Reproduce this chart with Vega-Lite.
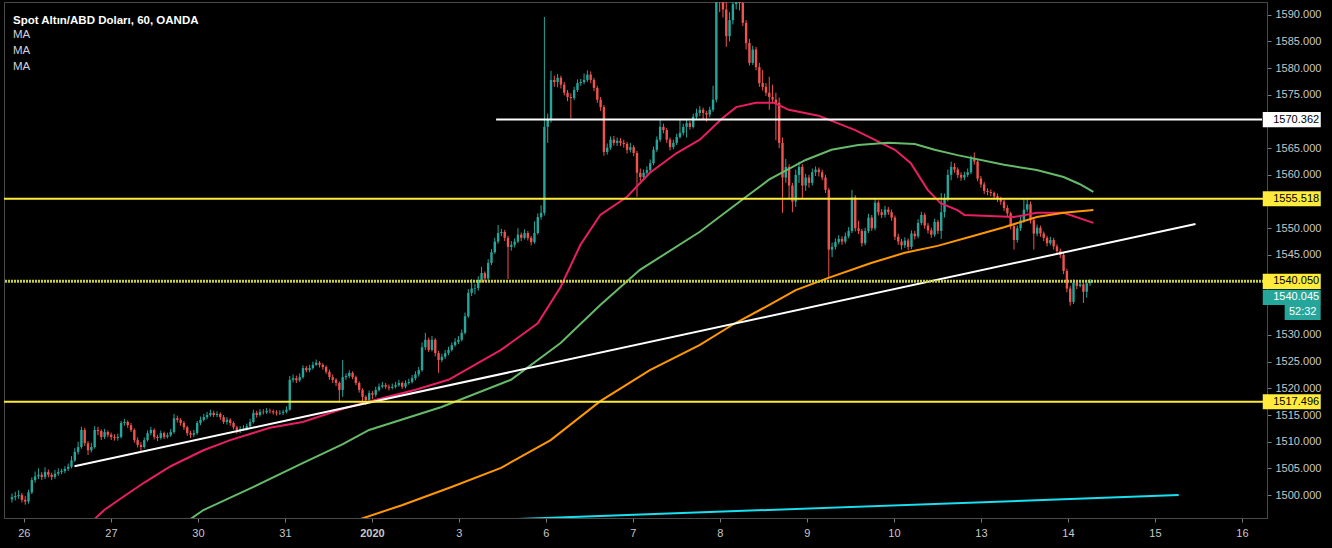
{
"$schema":"https://vega.github.io/schema/vega-lite/v6.json",
"width":1263,"height":516,
"autosize":{"type":"none"},
"padding":{"left":4,"top":2,"right":65,"bottom":30},
"background":"#000000",
"view":{"stroke":"#4a4a4a","fill":"#000000"},
"config":{"axisY":{"tickCount":19}},
"title":{"text":"Spot Altın/ABD Doları, 60, OANDA","subtitle":["MA","MA","MA"],"anchor":"start","frame":"group","orient":"top","offset":-70,"dx":9,"color":"#ffffff","font":"Liberation Sans","fontSize":11.5,"fontWeight":"bold","subtitleColor":"#d1d4dc","subtitleFont":"Liberation Sans","subtitleFontSize":11.5,"subtitleLineHeight":16,"subtitlePadding":2},
"datasets":{
"candles":[
{"i":0,"o":1499.2,"h":1500.3,"l":1498.6,"c":1499.6},
{"i":1,"o":1499.6,"h":1500.6,"l":1499.0,"c":1499.8},
{"i":2,"o":1499.8,"h":1500.9,"l":1499.3,"c":1500.0},
{"i":3,"o":1500.0,"h":1500.4,"l":1498.6,"c":1499.1},
{"i":4,"o":1499.1,"h":1499.8,"l":1498.2,"c":1498.8},
{"i":5,"o":1498.8,"h":1501.0,"l":1498.4,"c":1500.5},
{"i":6,"o":1500.5,"h":1503.3,"l":1500.2,"c":1502.8},
{"i":7,"o":1502.8,"h":1504.4,"l":1502.3,"c":1503.5},
{"i":8,"o":1503.5,"h":1505.0,"l":1503.0,"c":1503.8},
{"i":9,"o":1503.8,"h":1504.3,"l":1502.8,"c":1503.4},
{"i":10,"o":1503.4,"h":1505.2,"l":1503.0,"c":1504.3},
{"i":11,"o":1504.3,"h":1504.8,"l":1503.3,"c":1503.8},
{"i":12,"o":1503.8,"h":1504.2,"l":1502.8,"c":1503.4},
{"i":13,"o":1503.4,"h":1504.7,"l":1503.0,"c":1504.0},
{"i":14,"o":1504.0,"h":1505.0,"l":1503.6,"c":1504.3},
{"i":15,"o":1504.3,"h":1504.9,"l":1503.9,"c":1504.5},
{"i":16,"o":1504.5,"h":1505.4,"l":1504.1,"c":1504.9},
{"i":17,"o":1504.9,"h":1505.9,"l":1504.5,"c":1505.3},
{"i":18,"o":1505.3,"h":1507.3,"l":1505.0,"c":1506.5},
{"i":19,"o":1506.5,"h":1508.8,"l":1506.2,"c":1508.1},
{"i":20,"o":1508.1,"h":1510.0,"l":1507.6,"c":1509.0},
{"i":21,"o":1509.0,"h":1512.8,"l":1508.7,"c":1512.2},
{"i":22,"o":1512.2,"h":1512.6,"l":1509.2,"c":1509.7},
{"i":23,"o":1509.7,"h":1510.1,"l":1507.5,"c":1508.4},
{"i":24,"o":1508.4,"h":1509.8,"l":1508.0,"c":1509.0},
{"i":25,"o":1509.0,"h":1512.9,"l":1508.7,"c":1512.2},
{"i":26,"o":1512.2,"h":1512.8,"l":1511.2,"c":1512.0},
{"i":27,"o":1512.0,"h":1512.3,"l":1510.3,"c":1510.9},
{"i":28,"o":1510.9,"h":1512.4,"l":1510.5,"c":1511.8},
{"i":29,"o":1511.8,"h":1512.1,"l":1510.8,"c":1511.3},
{"i":30,"o":1511.3,"h":1511.7,"l":1510.3,"c":1510.9},
{"i":31,"o":1510.9,"h":1511.4,"l":1510.2,"c":1510.7},
{"i":32,"o":1510.7,"h":1511.5,"l":1510.2,"c":1510.9},
{"i":33,"o":1510.9,"h":1513.9,"l":1510.6,"c":1513.5},
{"i":34,"o":1513.5,"h":1514.3,"l":1513.0,"c":1513.7},
{"i":35,"o":1513.7,"h":1514.0,"l":1512.6,"c":1513.1},
{"i":36,"o":1513.1,"h":1513.5,"l":1511.8,"c":1512.2},
{"i":37,"o":1512.2,"h":1512.5,"l":1509.8,"c":1510.3},
{"i":38,"o":1510.3,"h":1510.8,"l":1508.9,"c":1509.4},
{"i":39,"o":1509.4,"h":1509.9,"l":1508.2,"c":1509.0},
{"i":40,"o":1509.0,"h":1510.8,"l":1508.7,"c":1510.3},
{"i":41,"o":1510.3,"h":1512.1,"l":1510.0,"c":1511.6},
{"i":42,"o":1511.6,"h":1512.8,"l":1511.2,"c":1512.2},
{"i":43,"o":1512.2,"h":1512.5,"l":1510.4,"c":1510.9},
{"i":44,"o":1510.9,"h":1511.3,"l":1510.1,"c":1510.7},
{"i":45,"o":1510.7,"h":1512.1,"l":1510.4,"c":1511.6},
{"i":46,"o":1511.6,"h":1511.9,"l":1510.5,"c":1510.9},
{"i":47,"o":1510.9,"h":1511.7,"l":1510.6,"c":1511.2},
{"i":48,"o":1511.2,"h":1512.4,"l":1510.9,"c":1511.8},
{"i":49,"o":1511.8,"h":1515.2,"l":1511.5,"c":1514.4},
{"i":50,"o":1514.4,"h":1514.9,"l":1513.6,"c":1514.1},
{"i":51,"o":1514.1,"h":1514.4,"l":1513.0,"c":1513.5},
{"i":52,"o":1513.5,"h":1513.9,"l":1512.2,"c":1512.7},
{"i":53,"o":1512.7,"h":1513.0,"l":1511.1,"c":1511.6},
{"i":54,"o":1511.6,"h":1512.0,"l":1510.7,"c":1511.3},
{"i":55,"o":1511.3,"h":1512.2,"l":1510.9,"c":1511.6},
{"i":56,"o":1511.6,"h":1513.9,"l":1511.3,"c":1513.5},
{"i":57,"o":1513.5,"h":1514.7,"l":1513.1,"c":1514.1},
{"i":58,"o":1514.1,"h":1515.2,"l":1513.8,"c":1514.6},
{"i":59,"o":1514.6,"h":1515.6,"l":1514.2,"c":1515.0},
{"i":60,"o":1515.0,"h":1516.0,"l":1514.7,"c":1515.4},
{"i":61,"o":1515.4,"h":1515.8,"l":1514.6,"c":1515.0},
{"i":62,"o":1515.0,"h":1515.7,"l":1514.6,"c":1515.2},
{"i":63,"o":1515.2,"h":1515.5,"l":1514.1,"c":1514.6},
{"i":64,"o":1514.6,"h":1515.0,"l":1513.3,"c":1513.7},
{"i":65,"o":1513.7,"h":1514.6,"l":1513.2,"c":1514.1},
{"i":66,"o":1514.1,"h":1514.4,"l":1513.0,"c":1513.5},
{"i":67,"o":1513.5,"h":1513.8,"l":1512.3,"c":1512.7},
{"i":68,"o":1512.7,"h":1513.0,"l":1511.5,"c":1512.2},
{"i":69,"o":1512.2,"h":1512.9,"l":1511.6,"c":1512.4},
{"i":70,"o":1512.4,"h":1513.1,"l":1512.0,"c":1512.5},
{"i":71,"o":1512.5,"h":1513.4,"l":1512.1,"c":1512.9},
{"i":72,"o":1512.9,"h":1514.3,"l":1512.6,"c":1513.7},
{"i":73,"o":1513.7,"h":1516.0,"l":1513.4,"c":1515.4},
{"i":74,"o":1515.4,"h":1515.8,"l":1514.5,"c":1515.0},
{"i":75,"o":1515.0,"h":1516.1,"l":1514.7,"c":1515.6},
{"i":76,"o":1515.6,"h":1516.1,"l":1515.1,"c":1515.5},
{"i":77,"o":1515.5,"h":1516.3,"l":1515.2,"c":1515.8},
{"i":78,"o":1515.8,"h":1516.2,"l":1515.3,"c":1515.7},
{"i":79,"o":1515.7,"h":1516.0,"l":1515.1,"c":1515.5},
{"i":80,"o":1515.5,"h":1515.9,"l":1514.9,"c":1515.3},
{"i":81,"o":1515.3,"h":1515.9,"l":1515.0,"c":1515.4},
{"i":82,"o":1515.4,"h":1516.0,"l":1515.0,"c":1515.6},
{"i":83,"o":1515.6,"h":1516.6,"l":1515.3,"c":1516.0},
{"i":84,"o":1516.0,"h":1522.3,"l":1515.8,"c":1521.6},
{"i":85,"o":1521.6,"h":1522.6,"l":1521.1,"c":1521.9},
{"i":86,"o":1521.9,"h":1522.4,"l":1521.0,"c":1521.5},
{"i":87,"o":1521.5,"h":1522.8,"l":1521.2,"c":1522.1},
{"i":88,"o":1522.1,"h":1524.3,"l":1521.8,"c":1523.8},
{"i":89,"o":1523.8,"h":1524.2,"l":1523.0,"c":1523.4},
{"i":90,"o":1523.4,"h":1524.4,"l":1523.0,"c":1523.8},
{"i":91,"o":1523.8,"h":1525.0,"l":1523.5,"c":1524.4},
{"i":92,"o":1524.4,"h":1525.4,"l":1524.2,"c":1524.8},
{"i":93,"o":1524.8,"h":1525.1,"l":1523.9,"c":1524.4},
{"i":94,"o":1524.4,"h":1524.7,"l":1523.5,"c":1524.0},
{"i":95,"o":1524.0,"h":1524.3,"l":1522.7,"c":1523.1},
{"i":96,"o":1523.1,"h":1523.5,"l":1521.6,"c":1522.1},
{"i":97,"o":1522.1,"h":1522.6,"l":1521.0,"c":1521.6},
{"i":98,"o":1521.6,"h":1521.9,"l":1520.4,"c":1521.0},
{"i":99,"o":1521.0,"h":1521.3,"l":1517.3,"c":1519.7},
{"i":100,"o":1519.7,"h":1525.3,"l":1518.4,"c":1522.1},
{"i":101,"o":1522.1,"h":1522.8,"l":1521.6,"c":1522.3},
{"i":102,"o":1522.3,"h":1523.4,"l":1521.9,"c":1522.9},
{"i":103,"o":1522.9,"h":1523.2,"l":1521.7,"c":1522.1},
{"i":104,"o":1522.1,"h":1522.4,"l":1520.6,"c":1521.0},
{"i":105,"o":1521.0,"h":1521.3,"l":1519.2,"c":1519.7},
{"i":106,"o":1519.7,"h":1520.0,"l":1517.6,"c":1518.4},
{"i":107,"o":1518.4,"h":1518.7,"l":1516.9,"c":1517.8},
{"i":108,"o":1517.8,"h":1519.6,"l":1517.3,"c":1519.1},
{"i":109,"o":1519.1,"h":1519.5,"l":1518.0,"c":1518.8},
{"i":110,"o":1518.8,"h":1520.3,"l":1518.4,"c":1519.7},
{"i":111,"o":1519.7,"h":1520.9,"l":1519.4,"c":1520.3},
{"i":112,"o":1520.3,"h":1521.2,"l":1520.0,"c":1520.6},
{"i":113,"o":1520.6,"h":1521.0,"l":1519.9,"c":1520.3},
{"i":114,"o":1520.3,"h":1520.7,"l":1519.6,"c":1520.1},
{"i":115,"o":1520.1,"h":1520.9,"l":1519.8,"c":1520.3},
{"i":116,"o":1520.3,"h":1521.2,"l":1520.0,"c":1520.6},
{"i":117,"o":1520.6,"h":1521.6,"l":1520.3,"c":1521.0},
{"i":118,"o":1521.0,"h":1521.3,"l":1519.9,"c":1520.3},
{"i":119,"o":1520.3,"h":1521.5,"l":1520.0,"c":1521.0},
{"i":120,"o":1521.0,"h":1521.8,"l":1520.7,"c":1521.2},
{"i":121,"o":1521.2,"h":1522.5,"l":1520.9,"c":1521.9},
{"i":122,"o":1521.9,"h":1523.2,"l":1521.5,"c":1522.6},
{"i":123,"o":1522.6,"h":1524.0,"l":1522.2,"c":1523.4},
{"i":124,"o":1523.4,"h":1528.6,"l":1523.1,"c":1527.7},
{"i":125,"o":1527.7,"h":1530.4,"l":1527.2,"c":1529.1},
{"i":126,"o":1529.1,"h":1529.5,"l":1526.8,"c":1527.2},
{"i":127,"o":1527.2,"h":1529.8,"l":1526.9,"c":1529.1},
{"i":128,"o":1529.1,"h":1529.4,"l":1526.0,"c":1526.6},
{"i":129,"o":1526.6,"h":1527.0,"l":1522.9,"c":1525.3},
{"i":130,"o":1525.3,"h":1526.5,"l":1524.9,"c":1525.9},
{"i":131,"o":1525.9,"h":1527.2,"l":1525.5,"c":1526.6},
{"i":132,"o":1526.6,"h":1527.8,"l":1526.2,"c":1527.2},
{"i":133,"o":1527.2,"h":1528.6,"l":1526.9,"c":1528.1},
{"i":134,"o":1528.1,"h":1529.4,"l":1527.8,"c":1528.7},
{"i":135,"o":1528.7,"h":1529.8,"l":1528.3,"c":1529.1},
{"i":136,"o":1529.1,"h":1531.0,"l":1528.8,"c":1530.4},
{"i":137,"o":1530.4,"h":1534.2,"l":1530.1,"c":1533.5},
{"i":138,"o":1533.5,"h":1538.6,"l":1533.2,"c":1537.9},
{"i":139,"o":1537.9,"h":1540.5,"l":1537.3,"c":1538.7},
{"i":140,"o":1538.7,"h":1539.6,"l":1537.6,"c":1538.8},
{"i":141,"o":1538.8,"h":1541.0,"l":1538.3,"c":1540.3},
{"i":142,"o":1540.3,"h":1542.8,"l":1539.8,"c":1541.6},
{"i":143,"o":1541.6,"h":1541.9,"l":1540.0,"c":1540.6},
{"i":144,"o":1540.6,"h":1544.2,"l":1540.3,"c":1543.5},
{"i":145,"o":1543.5,"h":1546.1,"l":1543.1,"c":1545.5},
{"i":146,"o":1545.5,"h":1548.2,"l":1545.2,"c":1547.5},
{"i":147,"o":1547.5,"h":1550.6,"l":1547.1,"c":1549.1},
{"i":148,"o":1549.1,"h":1549.9,"l":1548.5,"c":1549.3},
{"i":149,"o":1549.3,"h":1549.7,"l":1547.6,"c":1548.2},
{"i":150,"o":1548.2,"h":1548.6,"l":1540.5,"c":1546.5},
{"i":151,"o":1546.5,"h":1547.6,"l":1545.8,"c":1546.9},
{"i":152,"o":1546.9,"h":1548.1,"l":1546.4,"c":1547.5},
{"i":153,"o":1547.5,"h":1550.0,"l":1547.2,"c":1548.8},
{"i":154,"o":1548.8,"h":1549.2,"l":1547.6,"c":1548.2},
{"i":155,"o":1548.2,"h":1549.8,"l":1547.9,"c":1549.1},
{"i":156,"o":1549.1,"h":1549.5,"l":1547.7,"c":1548.2},
{"i":157,"o":1548.2,"h":1548.6,"l":1546.8,"c":1547.4},
{"i":158,"o":1547.4,"h":1551.3,"l":1547.1,"c":1549.1},
{"i":159,"o":1549.1,"h":1552.8,"l":1548.8,"c":1552.1},
{"i":160,"o":1552.1,"h":1554.3,"l":1551.6,"c":1552.9},
{"i":161,"o":1552.9,"h":1589.6,"l":1552.4,"c":1569.0},
{"i":162,"o":1569.0,"h":1571.5,"l":1566.0,"c":1570.3},
{"i":163,"o":1570.3,"h":1579.5,"l":1569.8,"c":1577.8},
{"i":164,"o":1577.8,"h":1578.6,"l":1576.5,"c":1577.4},
{"i":165,"o":1577.4,"h":1578.9,"l":1576.4,"c":1578.2},
{"i":166,"o":1578.2,"h":1578.6,"l":1576.2,"c":1576.9},
{"i":167,"o":1576.9,"h":1577.4,"l":1574.9,"c":1575.4},
{"i":168,"o":1575.4,"h":1575.9,"l":1573.8,"c":1574.6},
{"i":169,"o":1574.6,"h":1575.3,"l":1570.6,"c":1574.4},
{"i":170,"o":1574.4,"h":1576.5,"l":1574.0,"c":1575.9},
{"i":171,"o":1575.9,"h":1577.9,"l":1575.5,"c":1577.2},
{"i":172,"o":1577.2,"h":1578.0,"l":1576.7,"c":1577.4},
{"i":173,"o":1577.4,"h":1579.0,"l":1577.0,"c":1577.8},
{"i":174,"o":1577.8,"h":1579.6,"l":1577.4,"c":1578.8},
{"i":175,"o":1578.8,"h":1579.4,"l":1577.2,"c":1577.8},
{"i":176,"o":1577.8,"h":1578.2,"l":1575.7,"c":1576.3},
{"i":177,"o":1576.3,"h":1576.7,"l":1573.5,"c":1574.1},
{"i":178,"o":1574.1,"h":1574.6,"l":1572.0,"c":1572.7},
{"i":179,"o":1572.7,"h":1573.1,"l":1563.6,"c":1564.3},
{"i":180,"o":1564.3,"h":1565.9,"l":1563.8,"c":1565.1},
{"i":181,"o":1565.1,"h":1567.2,"l":1564.7,"c":1566.6},
{"i":182,"o":1566.6,"h":1567.3,"l":1565.5,"c":1566.0},
{"i":183,"o":1566.0,"h":1567.0,"l":1565.4,"c":1566.4},
{"i":184,"o":1566.4,"h":1566.9,"l":1565.4,"c":1566.0},
{"i":185,"o":1566.0,"h":1566.6,"l":1565.1,"c":1565.8},
{"i":186,"o":1565.8,"h":1566.2,"l":1564.0,"c":1564.7},
{"i":187,"o":1564.7,"h":1566.0,"l":1564.2,"c":1565.2},
{"i":188,"o":1565.2,"h":1565.6,"l":1563.5,"c":1564.1},
{"i":189,"o":1564.1,"h":1564.5,"l":1555.9,"c":1560.4},
{"i":190,"o":1560.4,"h":1561.2,"l":1558.8,"c":1559.6},
{"i":191,"o":1559.6,"h":1561.0,"l":1559.0,"c":1560.4},
{"i":192,"o":1560.4,"h":1561.6,"l":1560.0,"c":1560.9},
{"i":193,"o":1560.9,"h":1562.9,"l":1560.5,"c":1562.2},
{"i":194,"o":1562.2,"h":1565.3,"l":1561.8,"c":1564.7},
{"i":195,"o":1564.7,"h":1567.2,"l":1564.3,"c":1566.6},
{"i":196,"o":1566.6,"h":1570.3,"l":1566.2,"c":1569.0},
{"i":197,"o":1569.0,"h":1569.6,"l":1567.8,"c":1568.4},
{"i":198,"o":1568.4,"h":1568.8,"l":1566.0,"c":1566.6},
{"i":199,"o":1566.6,"h":1567.0,"l":1564.6,"c":1565.2},
{"i":200,"o":1565.2,"h":1566.6,"l":1564.8,"c":1566.0},
{"i":201,"o":1566.0,"h":1567.7,"l":1565.6,"c":1567.1},
{"i":202,"o":1567.1,"h":1570.3,"l":1566.8,"c":1567.9},
{"i":203,"o":1567.9,"h":1569.6,"l":1567.4,"c":1569.0},
{"i":204,"o":1569.0,"h":1570.5,"l":1567.0,"c":1569.7},
{"i":205,"o":1569.7,"h":1570.1,"l":1568.5,"c":1569.0},
{"i":206,"o":1569.0,"h":1571.5,"l":1568.7,"c":1570.9},
{"i":207,"o":1570.9,"h":1572.4,"l":1570.5,"c":1571.6},
{"i":208,"o":1571.6,"h":1572.9,"l":1571.0,"c":1572.2},
{"i":209,"o":1572.2,"h":1572.6,"l":1570.4,"c":1571.6},
{"i":210,"o":1571.6,"h":1572.0,"l":1570.0,"c":1571.3},
{"i":211,"o":1571.3,"h":1572.8,"l":1570.8,"c":1572.2},
{"i":212,"o":1572.2,"h":1576.7,"l":1571.8,"c":1574.1},
{"i":213,"o":1574.1,"h":1611.3,"l":1573.6,"c":1596.0},
{"i":214,"o":1596.0,"h":1600.0,"l":1590.5,"c":1593.0},
{"i":215,"o":1593.0,"h":1596.0,"l":1589.5,"c":1591.0},
{"i":216,"o":1591.0,"h":1592.5,"l":1584.0,"c":1586.0},
{"i":217,"o":1586.0,"h":1590.5,"l":1585.0,"c":1589.0},
{"i":218,"o":1589.0,"h":1595.0,"l":1588.2,"c":1592.0},
{"i":219,"o":1592.0,"h":1596.5,"l":1591.0,"c":1593.0},
{"i":220,"o":1593.0,"h":1595.0,"l":1590.8,"c":1592.2},
{"i":221,"o":1592.2,"h":1593.0,"l":1587.9,"c":1588.5},
{"i":222,"o":1588.5,"h":1589.0,"l":1583.5,"c":1584.7},
{"i":223,"o":1584.7,"h":1585.5,"l":1580.5,"c":1581.0},
{"i":224,"o":1581.0,"h":1584.2,"l":1580.6,"c":1583.5},
{"i":225,"o":1583.5,"h":1584.0,"l":1579.6,"c":1580.2},
{"i":226,"o":1580.2,"h":1581.0,"l":1576.5,"c":1577.2},
{"i":227,"o":1577.2,"h":1579.7,"l":1575.8,"c":1576.5},
{"i":228,"o":1576.5,"h":1577.2,"l":1574.8,"c":1575.4},
{"i":229,"o":1575.4,"h":1578.4,"l":1572.2,"c":1574.6},
{"i":230,"o":1574.6,"h":1576.9,"l":1573.4,"c":1574.1},
{"i":231,"o":1574.1,"h":1575.4,"l":1566.5,"c":1573.5},
{"i":232,"o":1573.5,"h":1574.5,"l":1565.0,"c":1566.0},
{"i":233,"o":1566.0,"h":1567.0,"l":1552.9,"c":1559.5},
{"i":234,"o":1559.5,"h":1563.0,"l":1558.5,"c":1561.5},
{"i":235,"o":1561.5,"h":1562.0,"l":1555.5,"c":1558.0},
{"i":236,"o":1558.0,"h":1558.5,"l":1553.0,"c":1555.0},
{"i":237,"o":1555.0,"h":1561.0,"l":1554.0,"c":1560.0},
{"i":238,"o":1560.0,"h":1562.5,"l":1558.5,"c":1561.5},
{"i":239,"o":1561.5,"h":1562.0,"l":1555.5,"c":1558.0},
{"i":240,"o":1558.0,"h":1560.2,"l":1557.0,"c":1559.5},
{"i":241,"o":1559.5,"h":1560.0,"l":1557.6,"c":1558.5},
{"i":242,"o":1558.5,"h":1561.2,"l":1558.0,"c":1560.5},
{"i":243,"o":1560.5,"h":1561.6,"l":1559.8,"c":1561.0},
{"i":244,"o":1561.0,"h":1561.4,"l":1559.7,"c":1560.5},
{"i":245,"o":1560.5,"h":1561.0,"l":1559.0,"c":1559.5},
{"i":246,"o":1559.5,"h":1560.0,"l":1556.6,"c":1557.2},
{"i":247,"o":1557.2,"h":1557.6,"l":1540.7,"c":1546.0},
{"i":248,"o":1546.0,"h":1547.3,"l":1544.6,"c":1546.5},
{"i":249,"o":1546.5,"h":1548.1,"l":1546.0,"c":1547.4},
{"i":250,"o":1547.4,"h":1548.7,"l":1547.0,"c":1548.0},
{"i":251,"o":1548.0,"h":1548.5,"l":1546.9,"c":1547.5},
{"i":252,"o":1547.5,"h":1549.2,"l":1547.1,"c":1548.5},
{"i":253,"o":1548.5,"h":1550.2,"l":1548.1,"c":1549.5},
{"i":254,"o":1549.5,"h":1557.2,"l":1549.1,"c":1555.8},
{"i":255,"o":1555.8,"h":1556.2,"l":1549.4,"c":1550.0},
{"i":256,"o":1550.0,"h":1551.4,"l":1548.9,"c":1549.5},
{"i":257,"o":1549.5,"h":1549.9,"l":1546.6,"c":1547.2},
{"i":258,"o":1547.2,"h":1550.1,"l":1546.8,"c":1549.5},
{"i":259,"o":1549.5,"h":1552.7,"l":1549.1,"c":1552.0},
{"i":260,"o":1552.0,"h":1552.5,"l":1549.5,"c":1550.0},
{"i":261,"o":1550.0,"h":1555.6,"l":1549.6,"c":1554.8},
{"i":262,"o":1554.8,"h":1555.2,"l":1552.4,"c":1553.0},
{"i":263,"o":1553.0,"h":1553.6,"l":1551.9,"c":1552.5},
{"i":264,"o":1552.5,"h":1554.2,"l":1552.0,"c":1553.5},
{"i":265,"o":1553.5,"h":1554.0,"l":1552.5,"c":1553.0},
{"i":266,"o":1553.0,"h":1553.5,"l":1551.4,"c":1552.0},
{"i":267,"o":1552.0,"h":1552.4,"l":1547.8,"c":1548.4},
{"i":268,"o":1548.4,"h":1549.0,"l":1546.9,"c":1547.5},
{"i":269,"o":1547.5,"h":1548.0,"l":1546.0,"c":1546.8},
{"i":270,"o":1546.8,"h":1548.3,"l":1546.3,"c":1547.7},
{"i":271,"o":1547.7,"h":1548.1,"l":1545.9,"c":1546.5},
{"i":272,"o":1546.5,"h":1549.6,"l":1546.1,"c":1549.0},
{"i":273,"o":1549.0,"h":1549.5,"l":1547.9,"c":1548.5},
{"i":274,"o":1548.5,"h":1551.7,"l":1548.1,"c":1551.0},
{"i":275,"o":1551.0,"h":1553.1,"l":1550.6,"c":1552.5},
{"i":276,"o":1552.5,"h":1552.9,"l":1549.9,"c":1550.5},
{"i":277,"o":1550.5,"h":1551.0,"l":1549.0,"c":1549.6},
{"i":278,"o":1549.6,"h":1550.1,"l":1548.2,"c":1548.8},
{"i":279,"o":1548.8,"h":1551.8,"l":1548.4,"c":1551.2},
{"i":280,"o":1551.2,"h":1551.6,"l":1548.9,"c":1549.5},
{"i":281,"o":1549.5,"h":1556.6,"l":1548.0,"c":1553.0},
{"i":282,"o":1553.0,"h":1556.5,"l":1552.0,"c":1555.5},
{"i":283,"o":1555.5,"h":1561.0,"l":1555.0,"c":1560.0},
{"i":284,"o":1560.0,"h":1562.5,"l":1559.0,"c":1561.5},
{"i":285,"o":1561.5,"h":1562.2,"l":1560.4,"c":1561.0},
{"i":286,"o":1561.0,"h":1561.4,"l":1559.4,"c":1560.0},
{"i":287,"o":1560.0,"h":1560.5,"l":1558.9,"c":1559.5},
{"i":288,"o":1559.5,"h":1560.6,"l":1559.0,"c":1560.0},
{"i":289,"o":1560.0,"h":1561.2,"l":1559.6,"c":1560.5},
{"i":290,"o":1560.5,"h":1563.6,"l":1560.1,"c":1563.0},
{"i":291,"o":1563.0,"h":1564.2,"l":1561.9,"c":1562.5},
{"i":292,"o":1562.5,"h":1562.9,"l":1558.8,"c":1559.3},
{"i":293,"o":1559.3,"h":1559.8,"l":1557.6,"c":1558.2},
{"i":294,"o":1558.2,"h":1558.7,"l":1556.4,"c":1557.0},
{"i":295,"o":1557.0,"h":1557.5,"l":1556.2,"c":1556.8},
{"i":296,"o":1556.8,"h":1557.3,"l":1556.0,"c":1556.6},
{"i":297,"o":1556.6,"h":1556.9,"l":1555.5,"c":1556.0},
{"i":298,"o":1556.0,"h":1556.5,"l":1554.9,"c":1555.5},
{"i":299,"o":1555.5,"h":1555.9,"l":1554.4,"c":1555.0},
{"i":300,"o":1555.0,"h":1555.4,"l":1553.2,"c":1553.8},
{"i":301,"o":1553.8,"h":1554.3,"l":1552.1,"c":1552.8},
{"i":302,"o":1552.8,"h":1553.1,"l":1549.8,"c":1550.4},
{"i":303,"o":1550.4,"h":1550.8,"l":1546.0,"c":1547.8},
{"i":304,"o":1547.8,"h":1550.5,"l":1547.3,"c":1550.0},
{"i":305,"o":1550.0,"h":1552.1,"l":1549.5,"c":1551.5},
{"i":306,"o":1551.5,"h":1555.5,"l":1551.0,"c":1553.5},
{"i":307,"o":1553.5,"h":1555.6,"l":1553.0,"c":1554.5},
{"i":308,"o":1554.5,"h":1555.0,"l":1550.9,"c":1551.5},
{"i":309,"o":1551.5,"h":1552.0,"l":1546.0,"c":1549.0},
{"i":310,"o":1549.0,"h":1550.7,"l":1548.5,"c":1550.1},
{"i":311,"o":1550.1,"h":1550.5,"l":1548.4,"c":1549.0},
{"i":312,"o":1549.0,"h":1549.4,"l":1547.6,"c":1548.2},
{"i":313,"o":1548.2,"h":1548.6,"l":1546.6,"c":1547.2},
{"i":314,"o":1547.2,"h":1548.4,"l":1546.8,"c":1547.8},
{"i":315,"o":1547.8,"h":1548.2,"l":1546.0,"c":1546.6},
{"i":316,"o":1546.6,"h":1547.0,"l":1545.1,"c":1545.7},
{"i":317,"o":1545.7,"h":1546.2,"l":1544.4,"c":1545.0},
{"i":318,"o":1545.0,"h":1545.4,"l":1541.4,"c":1542.0},
{"i":319,"o":1542.0,"h":1542.4,"l":1538.0,"c":1538.7},
{"i":320,"o":1538.7,"h":1539.2,"l":1535.5,"c":1536.2},
{"i":321,"o":1536.2,"h":1540.4,"l":1535.8,"c":1539.8},
{"i":322,"o":1539.8,"h":1540.3,"l":1538.6,"c":1539.2},
{"i":323,"o":1539.2,"h":1540.0,"l":1538.9,"c":1539.5},
{"i":324,"o":1539.5,"h":1539.9,"l":1536.0,"c":1538.1},
{"i":325,"o":1538.1,"h":1540.3,"l":1537.0,"c":1539.7},
{"i":326,"o":1539.7,"h":1540.5,"l":1539.2,"c":1540.05}
],
"ma":[
{"s":"a","i":23.4,"p":1494.6},{"s":"a","i":27.9,"p":1497.2},{"s":"a","i":33,"p":1499.4},{"s":"a","i":39.9,"p":1502.3},{"s":"a","i":48,"p":1505.4},{"s":"a","i":57.9,"p":1508.4},{"s":"a","i":66,"p":1510.3},{"s":"a","i":78,"p":1512.6},{"s":"a","i":87.9,"p":1513.7},{"s":"a","i":100.8,"p":1516.3},{"s":"a","i":109.8,"p":1517.8},{"s":"a","i":121.8,"p":1519.7},{"s":"a","i":132,"p":1521.6},{"s":"a","i":147.9,"p":1527.2},{"s":"a","i":159,"p":1532.2},{"s":"a","i":165.9,"p":1539.0},{"s":"a","i":171.9,"p":1546.9},{"s":"a","i":177.9,"p":1552.5},{"s":"a","i":186,"p":1555.9},{"s":"a","i":192.9,"p":1560.4},{"s":"a","i":201,"p":1564.1},{"s":"a","i":208,"p":1566.6},{"s":"a","i":214.8,"p":1570.6},{"s":"a","i":219,"p":1572.7},{"s":"a","i":225,"p":1573.5},{"s":"a","i":230.4,"p":1573.5},{"s":"a","i":234.9,"p":1572.2},{"s":"a","i":243.9,"p":1571.1},{"s":"a","i":255,"p":1568.4},{"s":"a","i":267,"p":1564.7},{"s":"a","i":271.8,"p":1562.2},{"s":"a","i":276.9,"p":1557.2},{"s":"a","i":280.8,"p":1554.7},{"s":"a","i":285.9,"p":1553.4},{"s":"a","i":288,"p":1552.5},{"s":"a","i":303,"p":1552.1},{"s":"a","i":309.9,"p":1552.9},{"s":"a","i":318,"p":1552.9},{"s":"a","i":327,"p":1551.0},
{"s":"b","i":51.9,"p":1494.6},{"s":"b","i":57.9,"p":1497.2},{"s":"b","i":72.9,"p":1501.5},{"s":"b","i":87.9,"p":1506.0},{"s":"b","i":99.9,"p":1509.5},{"s":"b","i":108,"p":1512.2},{"s":"b","i":129.9,"p":1516.5},{"s":"b","i":150.9,"p":1521.6},{"s":"b","i":165.9,"p":1528.5},{"s":"b","i":177.9,"p":1535.6},{"s":"b","i":189.9,"p":1542.2},{"s":"b","i":207.9,"p":1549.3},{"s":"b","i":222,"p":1555.9},{"s":"b","i":228.9,"p":1559.1},{"s":"b","i":240,"p":1562.8},{"s":"b","i":247.8,"p":1564.7},{"s":"b","i":255.9,"p":1565.6},{"s":"b","i":264.9,"p":1566.0},{"s":"b","i":273,"p":1565.8},{"s":"b","i":279,"p":1564.7},{"s":"b","i":285.9,"p":1563.7},{"s":"b","i":300,"p":1561.9},{"s":"b","i":309.9,"p":1560.9},{"s":"b","i":318,"p":1559.6},{"s":"b","i":322.8,"p":1558.3},{"s":"b","i":327,"p":1556.8},
{"s":"c","i":104.4,"p":1495.3},{"s":"c","i":117.9,"p":1498.1},{"s":"c","i":132.9,"p":1501.5},{"s":"c","i":147.9,"p":1505.1},{"s":"c","i":162.9,"p":1510.3},{"s":"c","i":177.9,"p":1517.6},{"s":"c","i":192.9,"p":1523.4},{"s":"c","i":207.9,"p":1528.1},{"s":"c","i":218.4,"p":1532.1},{"s":"c","i":228.9,"p":1535.6},{"s":"c","i":237,"p":1538.4},{"s":"c","i":246.9,"p":1540.7},{"s":"c","i":259.8,"p":1543.5},{"s":"c","i":270,"p":1545.4},{"s":"c","i":279.9,"p":1546.7},{"s":"c","i":289.8,"p":1548.4},{"s":"c","i":300,"p":1550.2},{"s":"c","i":309.9,"p":1552.1},{"s":"c","i":318,"p":1552.9},{"s":"c","i":327,"p":1553.4}
],
"trend":[{"i":18.9,"p":1505.4},{"i":357.9,"p":1550.8}],
"cyan":[{"i":152.4,"p":1495.5},{"i":352.8,"p":1500.0}],
"tags":[{"p":1570.362,"lab":"1570.362","k":"w"},{"p":1555.518,"lab":"1555.518","k":"y"},{"p":1540.05,"lab":"1540.050","k":"y"},{"p":1517.496,"lab":"1517.496","k":"y"}],
"cur":[{"p":1540.045,"lab":"1540.045","t":"52:32"}],
"one":[{"n":1}]
},
"layer":[
{"data":{"name":"candles"},"mark":{"type":"rule","strokeWidth":1,"clip":true},
 "encoding":{
  "x":{"field":"i","type":"quantitative","title":null,"scale":{"domain":[-0.9,378],"nice":false,"zero":false},
   "axis":{"orient":"bottom","values":[3.6,29.91,56.22,82.53,108.84,135.15,161.46,187.77,214.08,240.39,266.7,293.01,319.32,345.63,371.94],
    "labelExpr":"['26','27','30','31','2020','3','6','7','8','9','10','13','14','15','16'][round((datum.value-3.6)/26.31)]",
    "labelColor":"#c8c8c8","labelFont":"Liberation Sans","labelFontSize":11,
    "labelFontWeight":{"condition":{"test":"abs(datum.value-108.84)<0.5","value":"bold"},"value":"normal"},
    "tickColor":"#787b86","tickSize":4,"domainColor":"#4a4a4a","grid":false,"title":null,"labelPadding":5,"labelOverlap":false,"labelFlush":false}},
  "y":{"field":"l","type":"quantitative","title":null,"scale":{"domain":[1495.7,1592.4],"nice":false,"zero":false},
   "axis":{"orient":"right","values":[1500,1505,1510,1515,1520,1525,1530,1545,1550,1560,1565,1575,1580,1585,1590],"tickCount":19,
    "labelExpr":"indexof([1535,1540,1555,1570], round(datum.value)) >= 0 ? '' : format(datum.value, '.3f')",
    "labelColor":"#c8c8c8","labelFont":"Liberation Sans","labelFontSize":11,"tickColor":"#787b86","tickSize":4,"domainColor":"#4a4a4a","grid":false,"title":null,"labelPadding":4,"labelOverlap":false,"labelFlush":false,"labelBound":false}},
  "y2":{"field":"h"},
  "color":{"condition":{"test":"datum.c >= datum.o","value":"#26a69a"},"value":"#ef5350"}}},
{"data":{"name":"candles"},"mark":{"type":"bar","width":2.4,"clip":true},
 "encoding":{
  "x":{"field":"i","type":"quantitative","title":null,"scale":{"domain":[-0.9,378],"nice":false,"zero":false}},
  "y":{"field":"o","type":"quantitative","title":null,"scale":{"domain":[1495.7,1592.4],"nice":false,"zero":false}},
  "y2":{"field":"c"},
  "color":{"condition":{"test":"datum.c >= datum.o","value":"#26a69a"},"value":"#ef5350"}}},
{"data":{"name":"ma"},"mark":{"type":"line","strokeWidth":2,"clip":true},
 "encoding":{
  "x":{"field":"i","type":"quantitative","title":null,"scale":{"domain":[-0.9,378],"nice":false,"zero":false}},
  "y":{"field":"p","type":"quantitative","title":null,"scale":{"domain":[1495.7,1592.4],"nice":false,"zero":false}},
  "color":{"field":"s","type":"nominal","scale":{"domain":["a","b","c"],"range":["#e91e63","#66bb6a","#ff9800"]},"legend":null}}},
{"data":{"name":"cyan"},"mark":{"type":"line","strokeWidth":2,"color":"#18e0f0","clip":true},
 "encoding":{
  "x":{"field":"i","type":"quantitative","title":null,"scale":{"domain":[-0.9,378],"nice":false,"zero":false}},
  "y":{"field":"p","type":"quantitative","title":null,"scale":{"domain":[1495.7,1592.4],"nice":false,"zero":false}}}},
{"data":{"name":"trend"},"mark":{"type":"line","strokeWidth":2,"color":"#ffffff","clip":true},
 "encoding":{
  "x":{"field":"i","type":"quantitative","title":null,"scale":{"domain":[-0.9,378],"nice":false,"zero":false}},
  "y":{"field":"p","type":"quantitative","title":null,"scale":{"domain":[1495.7,1592.4],"nice":false,"zero":false}}}},
{"data":{"name":"one"},"mark":{"type":"rule","strokeWidth":2,"color":"#ffeb3b"},
 "encoding":{"y":{"datum":1555.518,"type":"quantitative","title":null,"scale":{"domain":[1495.7,1592.4],"nice":false,"zero":false}}}},
{"data":{"name":"one"},"mark":{"type":"rule","strokeWidth":2,"color":"#ffeb3b"},
 "encoding":{"y":{"datum":1517.496,"type":"quantitative","title":null,"scale":{"domain":[1495.7,1592.4],"nice":false,"zero":false}}}},
{"data":{"name":"one"},"mark":{"type":"rule","strokeWidth":3,"color":"#c6cc3a","strokeDash":[2,1]},
 "encoding":{"y":{"datum":1540.05,"type":"quantitative","title":null,"scale":{"domain":[1495.7,1592.4],"nice":false,"zero":false}}}},
{"data":{"name":"one"},"mark":{"type":"rule","strokeWidth":2,"color":"#ffffff"},
 "encoding":{
  "x":{"datum":146.4,"type":"quantitative","title":null,"scale":{"domain":[-0.9,378],"nice":false,"zero":false}},
  "x2":{"datum":378},
  "y":{"datum":1570.362,"type":"quantitative","title":null,"scale":{"domain":[1495.7,1592.4],"nice":false,"zero":false}}}},
{"data":{"name":"tags"},"mark":{"type":"point","shape":"M-1,-0.26L1,-0.26L1,0.26L-1,0.26Z","size":3364,"filled":true,"opacity":1,"strokeWidth":0},
 "encoding":{
  "x":{"datum":387,"type":"quantitative","title":null,"scale":{"domain":[-0.9,378],"nice":false,"zero":false}},
  "y":{"field":"p","type":"quantitative","title":null,"scale":{"domain":[1495.7,1592.4],"nice":false,"zero":false}},
  "fill":{"field":"k","type":"nominal","scale":{"domain":["w","y"],"range":["#ffffff","#ffeb3b"]},"legend":null}}},
{"data":{"name":"tags"},"mark":{"type":"text","align":"left","baseline":"middle","font":"Liberation Sans","fontSize":11,"color":"#000000"},
 "encoding":{
  "x":{"datum":381.4,"type":"quantitative","title":null,"scale":{"domain":[-0.9,378],"nice":false,"zero":false}},
  "y":{"field":"p","type":"quantitative","title":null,"scale":{"domain":[1495.7,1592.4],"nice":false,"zero":false}},
  "text":{"field":"lab"}}},
{"data":{"name":"cur"},"mark":{"type":"point","shape":"M-1,-0.26L1,-0.26L1,0.26L-1,0.26Z","size":3364,"filled":true,"opacity":1,"strokeWidth":0,"fill":"#26a69a","yOffset":16},
 "encoding":{
  "x":{"datum":387,"type":"quantitative","title":null,"scale":{"domain":[-0.9,378],"nice":false,"zero":false}},
  "y":{"field":"p","type":"quantitative","title":null,"scale":{"domain":[1495.7,1592.4],"nice":false,"zero":false}}}},
{"data":{"name":"cur"},"mark":{"type":"text","align":"left","baseline":"middle","font":"Liberation Sans","fontSize":11,"color":"#ffffff","yOffset":16},
 "encoding":{
  "x":{"datum":381.4,"type":"quantitative","title":null,"scale":{"domain":[-0.9,378],"nice":false,"zero":false}},
  "y":{"field":"p","type":"quantitative","title":null,"scale":{"domain":[1495.7,1592.4],"nice":false,"zero":false}},
  "text":{"field":"lab"}}},
{"data":{"name":"cur"},"mark":{"type":"point","shape":"M-1,-0.42L1,-0.42L1,0.42L-1,0.42Z","size":1296,"filled":true,"opacity":1,"strokeWidth":0,"fill":"#26a69a","yOffset":31},
 "encoding":{
  "x":{"datum":390.3,"type":"quantitative","title":null,"scale":{"domain":[-0.9,378],"nice":false,"zero":false}},
  "y":{"field":"p","type":"quantitative","title":null,"scale":{"domain":[1495.7,1592.4],"nice":false,"zero":false}}}},
{"data":{"name":"cur"},"mark":{"type":"text","align":"center","baseline":"middle","font":"Liberation Sans","fontSize":11,"color":"#ffffff","yOffset":31},
 "encoding":{
  "x":{"datum":390.3,"type":"quantitative","title":null,"scale":{"domain":[-0.9,378],"nice":false,"zero":false}},
  "y":{"field":"p","type":"quantitative","title":null,"scale":{"domain":[1495.7,1592.4],"nice":false,"zero":false}},
  "text":{"field":"t"}}}
]
}
